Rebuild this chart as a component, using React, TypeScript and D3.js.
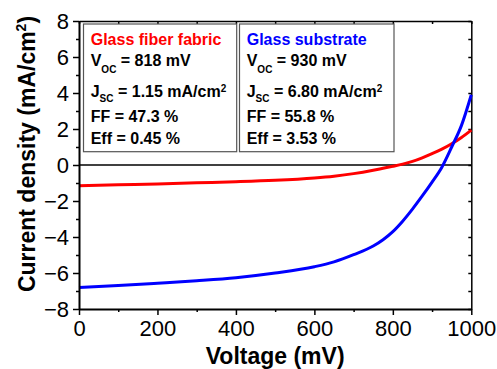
import React, {useRef, useEffect} from 'react';
import * as d3 from 'd3';

// J-V curves (voltage in mV, current density in mA/cm2)
const voltages = [0, 100, 200, 300, 400, 500, 600, 650, 700, 750, 775, 800, 825, 850, 875, 900, 925, 950, 975, 1000];
const fabricJ = [-1.15, -1.10, -1.05, -0.99, -0.93, -0.85, -0.72, -0.62, -0.48, -0.29, -0.18, -0.07, 0.05, 0.2, 0.4, 0.63, 0.88, 1.18, 1.53, 1.94];
const glassJ = [-6.80, -6.70, -6.57, -6.43, -6.26, -6.0, -5.65, -5.38, -4.98, -4.5, -4.15, -3.7, -3.12, -2.45, -1.72, -0.95, -0.12, 1.0, 2.2, 3.9];

const sampleNames = ['Glass fiber fabric', 'Glass substrate'];
const sampleColors = ['#ff0000', '#0000ff'];
const vocValues = ['818', '930'];
const jscValues = ['1.15', '6.80'];
const ffValues = ['47.3', '55.8'];
const effValues = ['0.45', '3.53'];

const xMajor = [0, 200, 400, 600, 800, 1000];
const xMinor = [100, 300, 500, 700, 900];
const yMajor = [-8, -6, -4, -2, 0, 2, 4, 6, 8];
const yMinor = [-7, -5, -3, -1, 1, 3, 5, 7];

const W = 497, H = 369;
const left = 79, right = 471.3, top = 21, bottom = 309;
const font = '"Liberation Sans", Arial, Helvetica, sans-serif';

const App = () => {
    const svgRef = useRef<SVGSVGElement>(null);

    const x = d3.scaleLinear().domain([0, 1000]).range([left, right]);
    const y = d3.scaleLinear().domain([-8, 8]).range([bottom, top]);

    const line = d3.line<number>()
        .x((d, i) => x(voltages[i]))
        .y(d => y(d))
        .curve(d3.curveMonotoneX);

    useEffect(() => {
        const svg = d3.select(svgRef.current);

        const style = (g, width) => {
            g.selectAll('.domain').attr('stroke', '#000').attr('stroke-width', width);
            g.selectAll('.tick line').attr('stroke', '#000').attr('stroke-width', 1.5);
            g.selectAll('.tick text')
                .attr('fill', '#000')
                .attr('font-family', font)
                .attr('font-size', 22);
        };

        svg.select<SVGGElement>('.x-axis')
            .attr('transform', `translate(0,${bottom})`)
            .call(d3.axisBottom(x).tickValues(xMajor).tickSize(6).tickSizeOuter(0).tickPadding(5).tickFormat(d3.format('d')))
            .call(g => style(g, 2));
        svg.select<SVGGElement>('.x-minor')
            .attr('transform', `translate(0,${bottom})`)
            .call(d3.axisBottom(x).tickValues(xMinor).tickSize(3).tickFormat(() => ''))
            .call(g => { g.select('.domain').remove(); style(g, 2); });

        svg.select<SVGGElement>('.y-axis')
            .attr('transform', `translate(${left},0)`)
            .call(d3.axisLeft(y).tickValues(yMajor).tickSize(6).tickSizeOuter(0).tickPadding(4).tickFormat(d3.format('d')))
            .call(g => style(g, 2));
        svg.select<SVGGElement>('.y-minor')
            .attr('transform', `translate(${left},0)`)
            .call(d3.axisLeft(y).tickValues(yMinor).tickSize(3).tickFormat(() => ''))
            .call(g => { g.select('.domain').remove(); style(g, 2); });

        // mirrored frame with inward ticks
        svg.select<SVGGElement>('.x-top')
            .attr('transform', `translate(0,${top})`)
            .call(d3.axisTop(x).tickValues([...xMajor, ...xMinor]).tickSize(-3).tickSizeOuter(0).tickFormat(() => ''))
            .call(g => style(g, 1.5));
        svg.select<SVGGElement>('.y-right')
            .attr('transform', `translate(${right},0)`)
            .call(d3.axisRight(y).tickValues([...yMajor, ...yMinor]).tickSize(-3).tickSizeOuter(0).tickFormat(() => ''))
            .call(g => style(g, 1.5));
    }, []);

    const boxes = [
        {x0: 83.5, x1: 236.7},
        {x0: 239.5, x1: 394},
    ];
    const rowY = [45.3, 66, 96.7, 122.3, 144];

    return (
        <svg ref={svgRef} width={W} height={H}
             style={{position: 'absolute', left: 0, top: 0, background: '#fff'}}
             fontFamily={font}>
            <g className="x-top"></g>
            <g className="y-right"></g>

            <line x1={x(0)} x2={x(1000)} y1={y(0)} y2={y(0)} stroke="#000" strokeWidth={1.5} />

            <path d={line(fabricJ) || ''} fill="none" stroke={sampleColors[0]} strokeWidth={3} />
            <path d={line(glassJ) || ''} fill="none" stroke={sampleColors[1]} strokeWidth={3} />

            <g className="x-axis"></g>
            <g className="x-minor"></g>
            <g className="y-axis"></g>
            <g className="y-minor"></g>

            {boxes.map((b, i) => {
                const tx = b.x0 + 7.2;
                return (
                    <g key={i} fontWeight="bold" fontSize={16} style={{whiteSpace: 'pre'}}>
                        <rect x={b.x0} y={24} width={b.x1 - b.x0} height={127.7}
                              fill="#fff" stroke="#555" strokeWidth={1.2} />
                        <text x={tx} y={rowY[0]} fill={sampleColors[i]}>{sampleNames[i]}</text>
                        <text x={tx} y={rowY[1]} fill="#000">
                            <tspan>V</tspan>
                            <tspan fontSize={10} dy={6.5}>OC</tspan>
                            <tspan dy={-6.5}>{` = ${vocValues[i]} mV`}</tspan>
                        </text>
                        <text x={tx} y={rowY[2]} fill="#000">
                            <tspan>J</tspan>
                            <tspan fontSize={10} dy={5.5}>SC</tspan>
                            <tspan dy={-5.5}>{` = ${jscValues[i]} mA/cm`}</tspan>
                            <tspan fontSize={10} dy={-5}>2</tspan>
                        </text>
                        <text x={tx} y={rowY[3]} fill="#000">{`FF = ${ffValues[i]} %`}</text>
                        <text x={tx} y={rowY[4]} fill="#000">{`Eff = ${effValues[i]} %`}</text>
                    </g>
                );
            })}

            <text x={(left + right) / 2} y={363.5} textAnchor="middle" fontWeight="bold" fontSize={23} fill="#000">
                Voltage (mV)
            </text>
            <text transform={`translate(35,154) rotate(-90)`} textAnchor="middle" fontWeight="bold" fontSize={23} fill="#000">
                <tspan>Current density (mA/cm</tspan>
                <tspan fontSize={14} dy={-9}>2</tspan>
                <tspan dy={9}>)</tspan>
            </text>
        </svg>
    );
};

export default App;
